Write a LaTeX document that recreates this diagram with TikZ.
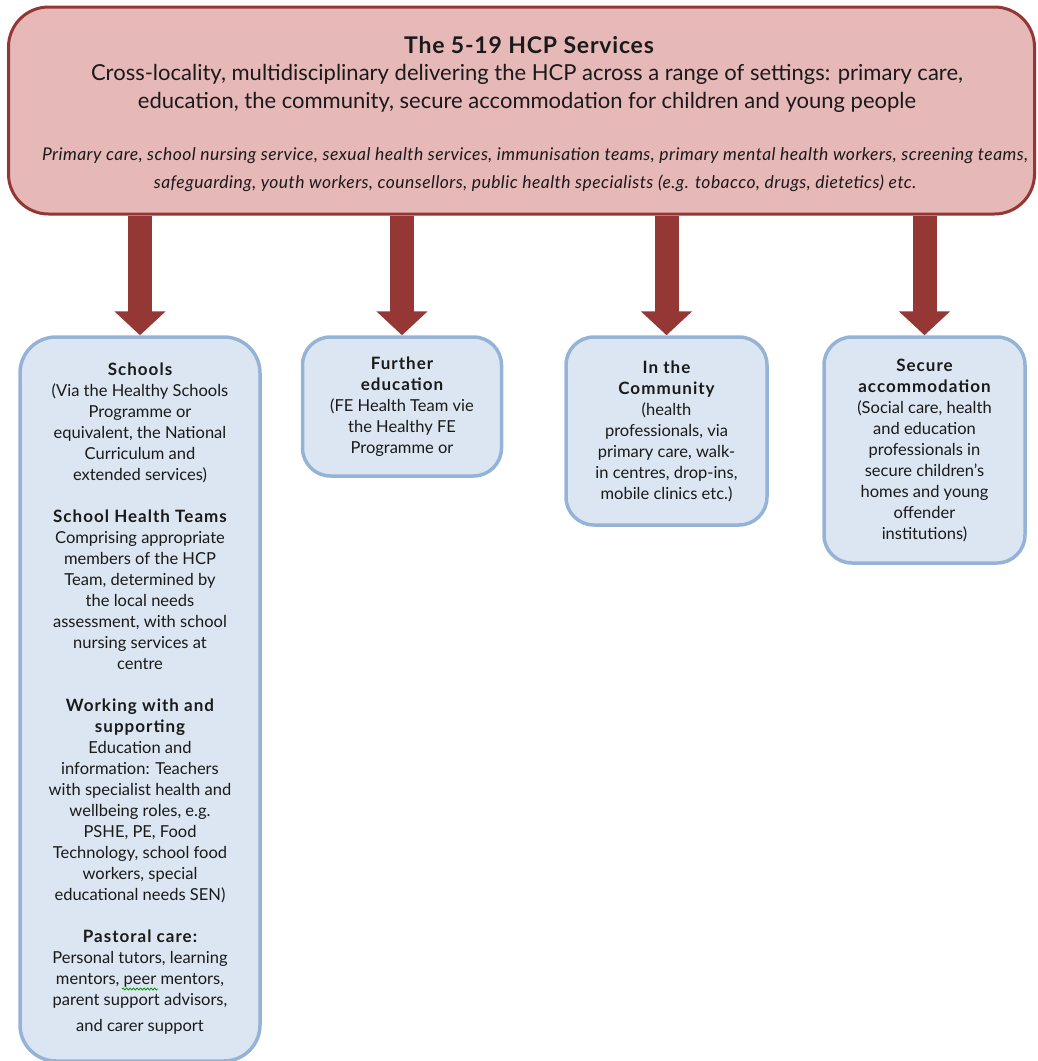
\documentclass[tikz,border=0pt]{standalone}
\usepackage{fontspec}
\setmainfont{Lato}
\usetikzlibrary{arrows.meta,backgrounds,decorations.pathmorphing}
\definecolor{hdrfill}{HTML}{E6B8B7}
\definecolor{hdrline}{HTML}{943634}
\definecolor{boxfill}{HTML}{DCE6F2}
\definecolor{boxline}{HTML}{95B3D7}
\definecolor{arrowred}{HTML}{953735}
\definecolor{txt}{HTML}{1A1A1A}
\newcommand{\hd}[1]{{\fontsize{17}{21}\bfseries\addfontfeature{LetterSpace=6}#1}}
\tikzset{
  hdrbox/.style={draw=hdrline, fill=hdrfill, line width=3pt, rounded corners=40pt, inner sep=0pt},
  setbox/.style={draw=boxline, fill=boxfill, line width=3.5pt, rounded corners=28pt, align=center,
     inner sep=0pt, text=txt, font=\fontsize{16.5}{21}\selectfont},
  bigarrow/.style={draw=arrowred, line width=24pt, -{Triangle[width=50pt,length=24pt]}},
  spell/.style={draw=green!60!black, line width=0.8pt, decorate,
     decoration={snake, amplitude=1pt, segment length=3.5pt}}
}
\begin{document}
\begin{tikzpicture}[x=1pt,y=-1pt]
\useasboundingbox (0,0) rectangle (1037,1061);
% header
\node[hdrbox, minimum width=1026pt, minimum height=207pt] (top) at (521.5,110.5) {};
\node[font=\fontsize{23}{28}\bfseries\addfontfeature{LetterSpace=3.5}, text=txt, inner sep=0pt] (title) at (529,45) {The 5-19 HCP Services};
\node[font=\fontsize{22}{28}\selectfont, text=txt, align=center, inner sep=0pt] (sub) at (527,88)
  {Cross-locality, multidisciplinary delivering the HCP across a range of settings: primary care,\\
   education, the community, secure accommodation for children and young people};
\node[font=\fontsize{17.5}{28}\itshape\addfontfeature{LetterSpace=2.6}, text=txt, align=center, inner sep=0pt] (staff) at (535,170)
  {Primary care, school nursing service, sexual health services, immunisation teams, primary mental health workers, screening teams,\\
   safeguarding, youth workers, counsellors, public health specialists (e.g. tobacco, drugs, dietetics) etc.};
% setting boxes
\node[setbox, rounded corners=36pt, minimum width=240pt, minimum height=724pt] (s) at (140,699)
  {\hd{Schools}\\
   (Via the Healthy Schools\\ Programme or\\ equivalent, the National\\ Curriculum and\\ extended services)\\[21pt]
   \hd{School Health Teams}\\
   Comprising appropriate\\ members of the HCP\\ Team, determined by\\ the local needs\\
   assessment, with school\\ nursing services at\\ centre\\[21pt]
   \hd{Working with and}\\ \hd{supporting}\\
   Education and\\ information: Teachers\\ with specialist health and\\ wellbeing roles, e.g.\\
   PSHE, PE, Food\\ Technology, school food\\ workers, special\\ educational needs SEN)\\[21pt]
   \hd{Pastoral care:}\\
   Personal tutors, learning\\ mentors, peer mentors,\\ parent support advisors,\\[5pt] and carer support};
\node[setbox, minimum width=199pt, minimum height=139pt] (fe) at (402,406.5)
  {\hd{Further}\\ \hd{education}\\ (FE Health Team vie\\ the Healthy FE\\ Programme or};
\node[setbox, minimum width=201pt, minimum height=188pt] (com) at (666.5,431)
  {\hd{In the}\\ \hd{Community}\\ (health\\ professionals, via\\ primary care, walk-\\ in centres, drop-ins,\\ mobile clinics etc.)};
\node[setbox, minimum width=201pt, minimum height=226pt] (sec) at (924.5,450)
  {\hd{Secure}\\ \hd{accommodation}\\ (Social care, health\\ and education\\ professionals in\\ secure children’s\\ homes and young\\ offender\\ institutions)};
% spell-check squiggle under "peer"
\coordinate (sq1) at (122,989);
\coordinate (sq2) at (158,989);
\draw[spell] (sq1) -- (sq2);
% arrows
\begin{scope}[on background layer]
\draw[bigarrow] (s.north |- top.south) -- (s.north);
\draw[bigarrow] (fe.north |- top.south) -- (fe.north);
\draw[bigarrow] (com.north |- top.south) -- (com.north);
\draw[bigarrow] (sec.north |- top.south) -- (sec.north);
\end{scope}
\end{tikzpicture}
\end{document}
